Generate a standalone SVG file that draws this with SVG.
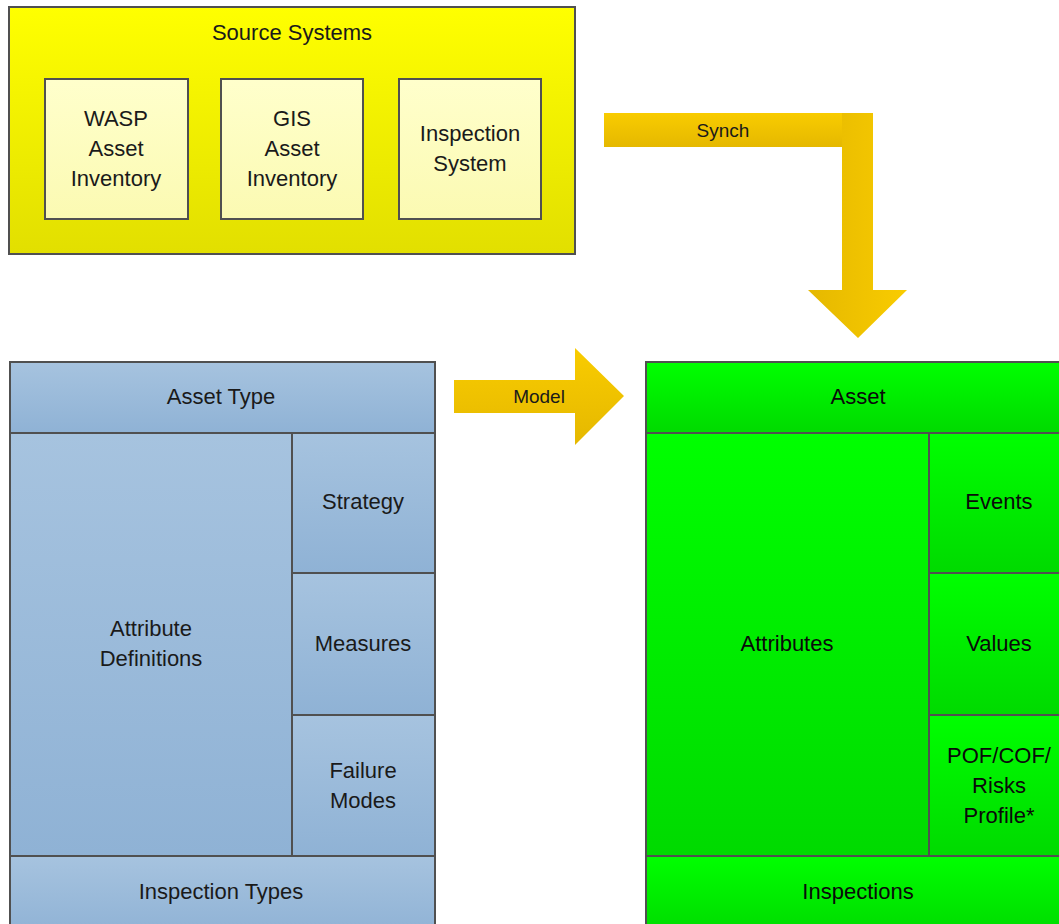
<svg xmlns="http://www.w3.org/2000/svg" width="1059" height="924" viewBox="0 0 1059 924">
<defs>
<linearGradient id="gYellow" x1="0" y1="0" x2="0" y2="1"><stop offset="0" stop-color="#ffff00"/><stop offset="1" stop-color="#e2df00"/></linearGradient>
<linearGradient id="gPale" x1="0" y1="0" x2="0" y2="1"><stop offset="0" stop-color="#ffffcc"/><stop offset="1" stop-color="#fbfab2"/></linearGradient>
<linearGradient id="gBlue" x1="0" y1="0" x2="0" y2="1"><stop offset="0" stop-color="#a6c3df"/><stop offset="1" stop-color="#8fb2d5"/></linearGradient>
<linearGradient id="gGreen" x1="0" y1="0" x2="0" y2="1"><stop offset="0" stop-color="#00ff00"/><stop offset="1" stop-color="#00da00"/></linearGradient>
<linearGradient id="gArrowH" x1="0" y1="0" x2="0" y2="1"><stop offset="0" stop-color="#f9cc00"/><stop offset="1" stop-color="#e5b800"/></linearGradient>
<linearGradient id="gArrowV" x1="0" y1="0" x2="1" y2="0"><stop offset="0" stop-color="#e5b800"/><stop offset="1" stop-color="#f9cc00"/></linearGradient>
</defs>
<style>
.box{stroke:#505050;stroke-width:2}
.y{fill:url(#gYellow)}
.p{fill:url(#gPale)}
.b{fill:url(#gBlue)}
.g{fill:url(#gGreen)}
text{font-family:"Liberation Sans",Arial,sans-serif;font-size:22px;fill:#1a1a1a;text-anchor:middle}
.g2 text, text.k{fill:#0a0a0a}
.sm{font-size:19px}
</style>
<g id="connectors">
<g id="synch">
<rect x="604" y="113" width="269" height="34" fill="url(#gArrowH)"/>
<path d="M842 113 H873 V290 H907 L858 338 L808 290 H842 Z" fill="url(#gArrowV)"/>
<text class="sm" x="723" y="137">Synch</text>
</g>
<g id="model">
<path d="M454 380 H575 V348 L624 396 L575 445 V413 H454 Z" fill="url(#gArrowH)"/>
<text class="sm" x="539" y="403">Model</text>
</g>
</g>
<g id="source-systems">
<rect class="box y" x="9" y="7" width="566" height="247"/>
<text x="292" y="40">Source Systems</text>
</g>
<g id="wasp">
<rect class="box p" x="45" y="79" width="143" height="140"/>
<text x="116" y="126">WASP</text><text x="116" y="156">Asset</text><text x="116" y="186">Inventory</text>
</g>
<g id="gis">
<rect class="box p" x="221" y="79" width="142" height="140"/>
<text x="292" y="126">GIS</text><text x="292" y="156">Asset</text><text x="292" y="186">Inventory</text>
</g>
<g id="inspection-system">
<rect class="box p" x="399" y="79" width="142" height="140"/>
<text x="470" y="141">Inspection</text><text x="470" y="171">System</text>
</g>
<g id="asset-type">
<rect class="box b" x="10" y="362" width="425" height="71"/>
<text x="221" y="404">Asset Type</text>
</g>
<g id="attribute-definitions">
<rect class="box b" x="10" y="433" width="282" height="423"/>
<text x="151" y="636">Attribute</text><text x="151" y="666">Definitions</text>
</g>
<g id="strategy">
<rect class="box b" x="292" y="433" width="143" height="140"/>
<text x="363" y="509">Strategy</text>
</g>
<g id="measures">
<rect class="box b" x="292" y="573" width="143" height="142"/>
<text x="363" y="651">Measures</text>
</g>
<g id="failure-modes">
<rect class="box b" x="292" y="715" width="143" height="141"/>
<text x="363" y="778">Failure</text><text x="363" y="808">Modes</text>
</g>
<g id="inspection-types">
<rect class="box b" x="10" y="856" width="425" height="80"/>
<text x="221" y="899">Inspection Types</text>
</g>
<g id="asset">
<rect class="box g" x="646" y="362" width="424" height="71"/>
<text class="k" x="858" y="404">Asset</text>
</g>
<g id="attributes">
<rect class="box g" x="646" y="433" width="283" height="423"/>
<text class="k" x="787" y="651">Attributes</text>
</g>
<g id="events">
<rect class="box g" x="929" y="433" width="141" height="140"/>
<text class="k" x="999" y="509">Events</text>
</g>
<g id="values">
<rect class="box g" x="929" y="573" width="141" height="142"/>
<text class="k" x="999" y="651">Values</text>
</g>
<g id="pof-cof-risks">
<rect class="box g" x="929" y="715" width="141" height="141"/>
<text class="k" x="999" y="763">POF/COF/</text><text class="k" x="999" y="793">Risks</text><text class="k" x="999" y="823">Profile*</text>
</g>
<g id="inspections">
<rect class="box g" x="646" y="856" width="424" height="80"/>
<text class="k" x="858" y="899">Inspections</text>
</g>
</svg>
